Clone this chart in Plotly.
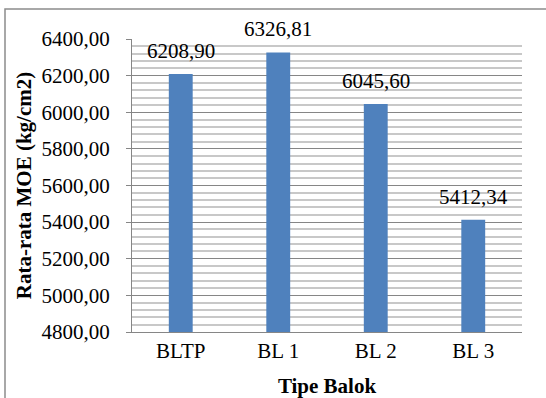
import plotly.graph_objects as go

# Mean modulus of elasticity per beam type
tipe_balok = ["BLTP", "BL 1", "BL 2", "BL 3"]
rata_moe = [6208.90, 6326.81, 6045.60, 5412.34]

y_min, y_max, y_step, y_minor = 4800, 6400, 200, 40

FONT = "Times New Roman, Liberation Serif, serif"
FS = 21

W, H = 546, 398
L, R, T, B = 132, 24, 39, 66
pw, ph = W - L - R, H - T - B


def px_x(x):
    return (x - L) / pw


def px_y(y):
    return (H - B - y) / ph


fig = go.Figure(
    go.Bar(
        x=tipe_balok,
        y=rata_moe,
        marker=dict(color="#4f81bd", line=dict(width=0)),
        width=0.245,
        hoverinfo="x+y",
    )
)

# value labels above each bar, formatted with a decimal comma
for cat, val in zip(tipe_balok, rata_moe):
    fig.add_annotation(
        x=cat,
        y=val,
        xref="x",
        yref="y",
        text=f"{val:.2f}".replace(".", ","),
        showarrow=False,
        yanchor="bottom",
        yshift=9,
        font=dict(family=FONT, size=FS, color="#000000"),
    )

fig.update_layout(
    width=W,
    height=H,
    margin=dict(l=L, r=R, t=T, b=B, autoexpand=False),
    paper_bgcolor="#ffffff",
    plot_bgcolor="#ffffff",
    separators=", ",
    showlegend=False,
    font=dict(family=FONT, size=FS, color="#000000"),
    xaxis=dict(
        automargin=False,
        showline=True,
        linecolor="#868686",
        linewidth=1,
        showgrid=False,
        ticks="",
        tickfont=dict(family=FONT, size=FS),
        title=dict(text="<b>Tipe Balok</b>", font=dict(family=FONT, size=FS), standoff=19),
    ),
    yaxis=dict(
        automargin=False,
        range=[y_min, y_max],
        dtick=y_step,
        tick0=y_min,
        tickformat=".2f",
        showline=True,
        linecolor="#868686",
        linewidth=1,
        ticks="outside",
        ticklen=5,
        tickcolor="#868686",
        ticklabelstandoff=12,
        tickfont=dict(family=FONT, size=FS),
        showgrid=True,
        gridcolor="#868686",
        gridwidth=1,
        zeroline=False,
        minor=dict(dtick=y_minor, showgrid=True, gridcolor="#c8c8c8", gridwidth=2),
        title=dict(text="<b>Rata-rata MOE (kg/cm2)</b>", font=dict(family=FONT, size=FS), standoff=4),
    ),
    shapes=[
        dict(
            type="rect",
            xref="paper",
            yref="paper",
            x0=px_x(5),
            x1=px_x(560),
            y0=px_y(410),
            y1=px_y(9),
            line=dict(color="#8c8c8c", width=1.5),
            fillcolor="rgba(0,0,0,0)",
            layer="below",
        )
    ],
)

fig.write_html("out.html")
